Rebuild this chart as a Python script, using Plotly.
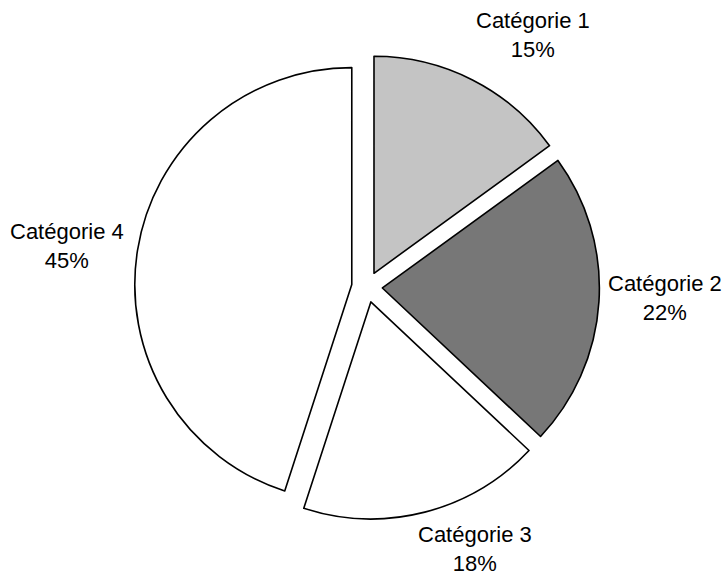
import plotly.graph_objects as go

categories = ["Catégorie 1", "Catégorie 2", "Catégorie 3", "Catégorie 4"]
values = [15, 22, 18, 45]
colors = ["#c4c4c4", "#777777", "#ffffff", "#ffffff"]

# label placement (pixel centres of each label block) - layout only
label_pos = [(533, 35), (665, 298), (475, 549), (67, 246)]

W, H = 726, 578
cx, cy = 367, 287
r = 217
pull = 0.071
half = r * (1 + pull)

fig = go.Figure(go.Pie(
    labels=categories,
    values=values,
    sort=False,
    direction="clockwise",
    rotation=0,
    pull=[pull] * len(values),
    marker=dict(colors=colors, line=dict(color="#000000", width=1.6)),
    textinfo="none",
    hoverinfo="label+percent",
    domain=dict(x=[(cx - half) / W, (cx + half) / W],
                y=[(H - cy - half) / H, (H - cy + half) / H]),
    automargin=False,
    showlegend=False,
))

total = sum(values)
for cat, val, (px, py) in zip(categories, values, label_pos):
    fig.add_annotation(
        x=px / W, y=1 - py / H, xref="paper", yref="paper",
        text=f"{cat}<br>{round(100 * val / total)}%",
        showarrow=False, xanchor="center", yanchor="middle", align="center",
        font=dict(family="Liberation Sans, Arial, sans-serif", size=22, color="#000000"),
    )

fig.update_layout(
    width=W, height=H,
    margin=dict(l=0, r=0, t=0, b=0),
    paper_bgcolor="white",
    plot_bgcolor="white",
    showlegend=False,
)

fig.write_html("out.html")
